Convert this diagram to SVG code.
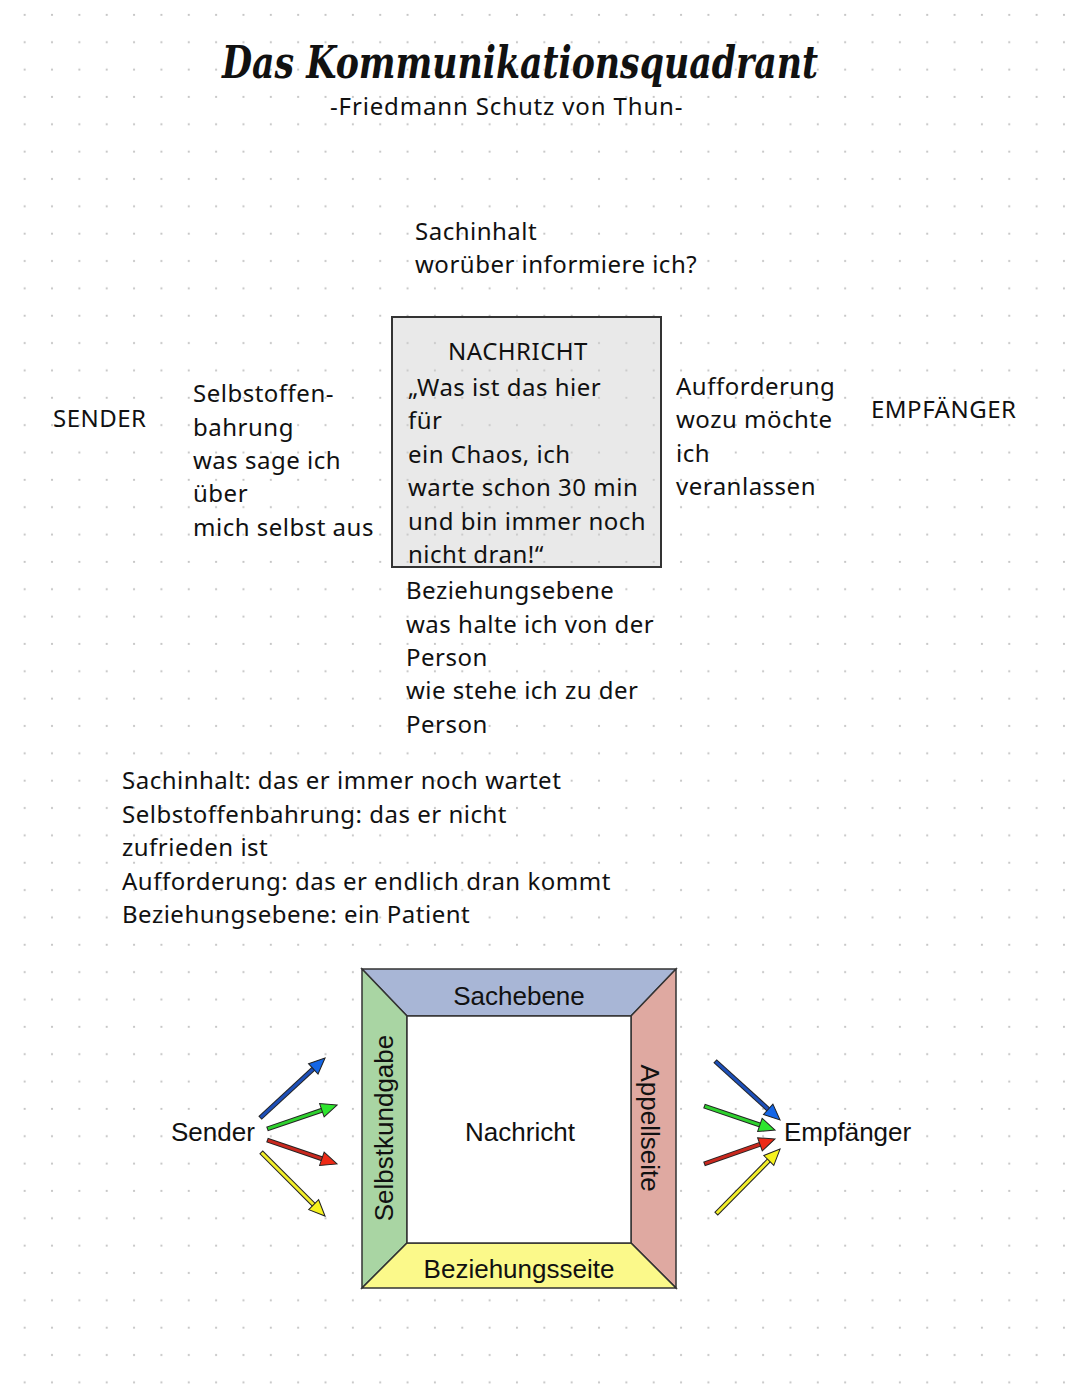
<svg xmlns="http://www.w3.org/2000/svg" xmlns:xlink="http://www.w3.org/1999/xlink" width="1080" height="1394" viewBox="0 0 1080 1394">
<defs>
<pattern id="dots" x="11" y="1.3" width="27.35" height="27.35" patternUnits="userSpaceOnUse">
<circle cx="13.67" cy="13.67" r="1.1" fill="#c4c4c4"/>
</pattern>
<polygon id="head" points="0,0 -16,-7 -16,7"/>
<style>
.t{font-family:"Noto Sans","DejaVu Sans",sans-serif;font-size:24px;fill:#111;letter-spacing:0.5px}
.a{font-family:"Liberation Sans",Arial,sans-serif;font-size:26px;fill:#111}
.ttl{font-family:"DejaVu Serif",serif;font-style:italic;font-weight:bold;font-size:44px;fill:#111}
.edge{stroke:#333;stroke-width:1.5;stroke-linejoin:miter}
.sh{stroke:#222;stroke-width:5;stroke-linecap:butt}
.hd{stroke:#222;stroke-width:1}
</style>
</defs>
<rect width="1080" height="1394" fill="#fff"/>
<rect width="1080" height="1394" fill="url(#dots)"/>

<g id="title">
<text class="ttl" x="222" y="78" textLength="596" lengthAdjust="spacingAndGlyphs">Das Kommunikationsquadrant</text>
<text class="t" x="330" y="115" textLength="353">-Friedmann Schutz von Thun-</text>
</g>

<g id="sachinhalt">
<text class="t" x="415" y="240">Sachinhalt</text>
<text class="t" x="415" y="273">worüber informiere ich?</text>
</g>

<g id="nachricht">
<rect x="392" y="317" width="269" height="250" fill="#cfcfcf" fill-opacity="0.45" stroke="#333" stroke-width="2"/>
<text class="t" x="518" y="360" text-anchor="middle">NACHRICHT</text>
<text class="t" x="408" y="396">„Was ist das hier</text>
<text class="t" x="408" y="429">für</text>
<text class="t" x="408" y="463">ein Chaos, ich</text>
<text class="t" x="408" y="496">warte schon 30 min</text>
<text class="t" x="408" y="530">und bin immer noch</text>
<text class="t" x="408" y="563">nicht dran!“</text>
</g>

<g id="sender">
<text class="t" x="53" y="427">SENDER</text>
</g>

<g id="selbstoffenbahrung">
<text class="t" x="193" y="402">Selbstoffen-</text>
<text class="t" x="193" y="436">bahrung</text>
<text class="t" x="193" y="469">was sage ich</text>
<text class="t" x="193" y="502">über</text>
<text class="t" x="193" y="536">mich selbst aus</text>
</g>

<g id="aufforderung">
<text class="t" x="676" y="395">Aufforderung</text>
<text class="t" x="676" y="428">wozu möchte</text>
<text class="t" x="676" y="462">ich</text>
<text class="t" x="676" y="495">veranlassen</text>
</g>

<g id="empfaenger">
<text class="t" x="871" y="418">EMPFÄNGER</text>
</g>

<g id="beziehungsebene">
<text class="t" x="406" y="599">Beziehungsebene</text>
<text class="t" x="406" y="633">was halte ich von der</text>
<text class="t" x="406" y="666">Person</text>
<text class="t" x="406" y="699">wie stehe ich zu der</text>
<text class="t" x="406" y="733">Person</text>
</g>

<g id="summary">
<text class="t" x="122" y="789">Sachinhalt: das er immer noch wartet</text>
<text class="t" x="122" y="823">Selbstoffenbahrung: das er nicht</text>
<text class="t" x="122" y="856">zufrieden ist</text>
<text class="t" x="122" y="890">Aufforderung: das er endlich dran kommt</text>
<text class="t" x="122" y="923">Beziehungsebene: ein Patient</text>
</g>

<g id="quadrant">
<polygon class="edge" points="362,969 676,969 631,1016 407,1016" fill="#a8b6d6"/>
<polygon class="edge" points="362,969 407,1016 407,1243 362,1288" fill="#a9d5a3"/>
<polygon class="edge" points="676,969 676,1288 631,1243 631,1016" fill="#dfa9a1"/>
<polygon class="edge" points="362,1288 407,1243 631,1243 676,1288" fill="#fbf98a"/>
<rect class="edge" x="407" y="1016" width="224" height="227" fill="#fff"/>
<text class="a" x="519" y="1005" text-anchor="middle">Sachebene</text>
<text class="a" x="519" y="1278" text-anchor="middle">Beziehungsseite</text>
<text class="a" x="520" y="1141" text-anchor="middle">Nachricht</text>
<text class="a" transform="translate(393,1128) rotate(-90)" text-anchor="middle">Selbstkundgabe</text>
<text class="a" transform="translate(641,1128) rotate(90)" text-anchor="middle">Appellseite</text>
</g>

<g id="sender2">
<text class="a" x="171" y="1141">Sender</text>
</g>
<g id="empfaenger2">
<text class="a" x="784" y="1141">Empfänger</text>
</g>

<g id="connectors">
<g transform="translate(260,1118) rotate(-42.7)"><line class="sh" x1="0" y1="0" x2="74" y2="0"/><line x1="1" y1="0" x2="74" y2="0" stroke="#1d4fb8" stroke-width="3"/><use href="#head" x="88.5" fill="#1466e6" class="hd"/></g>
<g transform="translate(267,1129) rotate(-18.9)"><line class="sh" x1="0" y1="0" x2="60" y2="0"/><line x1="1" y1="0" x2="60" y2="0" stroke="#2ed12e" stroke-width="3"/><use href="#head" x="74" fill="#2ee62e" class="hd"/></g>
<g transform="translate(267,1140) rotate(18.9)"><line class="sh" x1="0" y1="0" x2="60" y2="0"/><line x1="1" y1="0" x2="60" y2="0" stroke="#c8281e" stroke-width="3"/><use href="#head" x="74" fill="#ee2a16" class="hd"/></g>
<g transform="translate(261,1152) rotate(45)"><line class="sh" x1="0" y1="0" x2="76" y2="0"/><line x1="1" y1="0" x2="76" y2="0" stroke="#f2ee2a" stroke-width="3"/><use href="#head" x="90.5" fill="#f6f21e" class="hd"/></g>

<g transform="translate(715,1061) rotate(42.2)"><line class="sh" x1="0" y1="0" x2="73" y2="0"/><line x1="1" y1="0" x2="73" y2="0" stroke="#1d4fb8" stroke-width="3"/><use href="#head" x="87.8" fill="#1466e6" class="hd"/></g>
<g transform="translate(704,1106) rotate(18.7)"><line class="sh" x1="0" y1="0" x2="61" y2="0"/><line x1="1" y1="0" x2="61" y2="0" stroke="#2ed12e" stroke-width="3"/><use href="#head" x="75" fill="#2ee62e" class="hd"/></g>
<g transform="translate(704,1164) rotate(-19.4)"><line class="sh" x1="0" y1="0" x2="61" y2="0"/><line x1="1" y1="0" x2="61" y2="0" stroke="#c8281e" stroke-width="3"/><use href="#head" x="75.3" fill="#ee2a16" class="hd"/></g>
<g transform="translate(716,1214) rotate(-45.4)"><line class="sh" x1="0" y1="0" x2="77" y2="0"/><line x1="1" y1="0" x2="77" y2="0" stroke="#f2ee2a" stroke-width="3"/><use href="#head" x="91.2" fill="#f6f21e" class="hd"/></g>
</g>
</svg>
